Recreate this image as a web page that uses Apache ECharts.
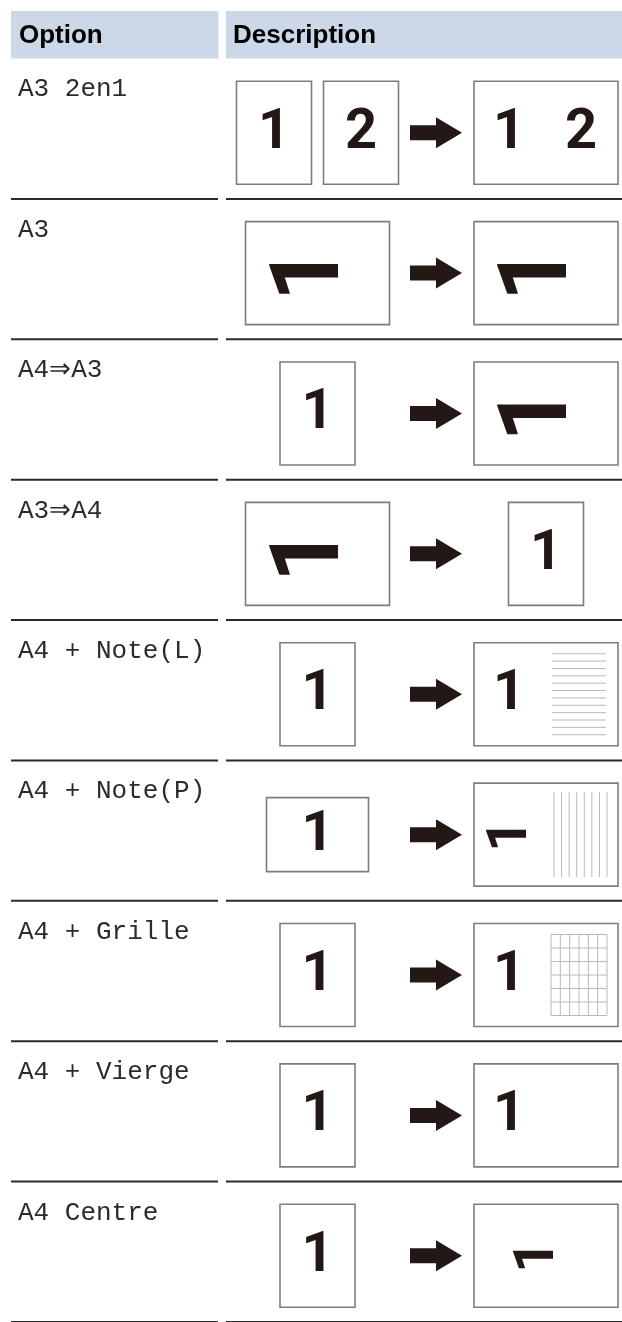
<!DOCTYPE html>
<html><head><meta charset="utf-8">
<script src="https://cdn.jsdelivr.net/npm/echarts@6/dist/echarts.min.js"></script>
<style>html,body{margin:0;padding:0;background:#fff}#c{width:622px;height:1322px}</style>
</head><body><div id="c"></div>
<script>
// ---- table content ----
const headers = ['Option', 'Description'];
const options = ['A3 2en1', 'A3', 'A4\u21D2A3', 'A3\u21D2A4', 'A4 + Note(L)', 'A4 + Note(P)', 'A4 + Grille', 'A4 + Vierge', 'A4 Centre'];
// input sheets per row (sheet kind) and the digit drawn on each
const inputSheets = [['A4', 'A4'], ['A3'], ['A4'], ['A3'], ['A4'], ['A4L'], ['A4'], ['A4'], ['A4']];
const inputDigits = [['1', '2'], ['1r'], ['1'], ['1r'], ['1'], ['1'], ['1'], ['1'], ['1']];
// output sheet per row, its digits and its extra pattern
const outputSheets = ['A3', 'A3', 'A3', 'A4', 'A3', 'A3', 'A3', 'A3', 'A3'];
const outputDigits = ['1 2', '1r', '1r', '1', '1', '1s', '1', '1', '1s'];
const outputPlacement = ['split', 'centre', 'centre', 'centre', 'left', 'left', 'left', 'left', 'centre'];
const outputPattern = ['', '', '', '', 'lines', 'columns', 'grid', '', ''];
const noteLineCount = 12;
const noteColumnCount = 8;
const gridCols = 6;
const gridRows = 6;

// ---- styles / layout ----
const INK = '#231815';
const BORDER = '#7d7d7d';
const PATTERN = '#b9b9b9';
const SHEET = { A4: [75, 103], A3: [144, 103], A4L: [102, 74] };
const SANS = 'Liberation Sans';
const DIGITS = 'Roboto';
const MONO = 'Liberation Mono';

function txt(x, y, text, size, align, valign, rot) {
  return { type: 'text', x: x, y: y, rotation: rot || 0,
    style: { text: text, fontFamily: DIGITS, fontSize: size, fontWeight: 'bold', fill: INK,
             align: align, verticalAlign: valign } };
}
function digit(kind, x, y) {
  if (kind === '1r') return txt(x - 4, y, '1', 96, 'center', 'middle', Math.PI / 2);
  if (kind === '1s') return txt(x, y, '1', 56, 'center', 'middle', Math.PI / 2);
  return txt(x, y, kind, 56, 'center', 'middle', 0);
}
function sheet(kind, cx, cy) {
  const s = SHEET[kind];
  return { type: 'rect', shape: { x: cx - s[0] / 2, y: cy - s[1] / 2, width: s[0], height: s[1] },
    style: { fill: '#fff', stroke: BORDER, lineWidth: 1.6 } };
}
function line(x1, y1, x2, y2, stroke, w) {
  return { type: 'line', shape: { x1: x1, y1: y1, x2: x2, y2: y2 }, style: { stroke: stroke, lineWidth: w } };
}

function renderItem(params, api) {
  const i = api.value(0);
  const c = api.coord([0, i]);
  const band = api.size([0, 1])[1];
  const top = c[1] - band / 2;
  const cy = c[1] + 4;
  const ch = [];
  // separators
  ch.push(line(11, top + band, 218, top + band, '#2a2a2a', 2));
  ch.push(line(226, top + band, 622, top + band, '#2a2a2a', 2));
  // option label
  ch.push({ type: 'text', x: 18, y: top + 44,
    style: { text: options[i], fontFamily: MONO, fontSize: 26, fill: '#2b2b2b',
             align: 'left', verticalAlign: 'bottom' } });
  // input sheets
  const ins = inputSheets[i];
  const inCx = 317.5;
  if (ins.length === 2) {
    const xs = [inCx - 43.5, inCx + 43.5];
    ins.forEach(function (k, j) {
      ch.push(sheet(k, xs[j], cy));
      ch.push(digit(inputDigits[i][j], xs[j], cy + 1));
    });
  } else {
    ch.push(sheet(ins[0], inCx, cy));
    ch.push(digit(inputDigits[i][0], inCx, cy + 1));
  }
  // arrow
  ch.push({ type: 'polygon', shape: { points: [[410, cy - 7.5], [436, cy - 7.5], [436, cy - 15.5], [462, cy],
    [436, cy + 15.5], [436, cy + 7.5], [410, cy + 7.5]] }, style: { fill: INK } });
  // output sheet
  const outCx = 546;
  const os = SHEET[outputSheets[i]];
  const ox = outCx - os[0] / 2, oy = cy - os[1] / 2;
  ch.push(sheet(outputSheets[i], outCx, cy));
  const pat = outputPattern[i];
  if (pat === 'lines') {
    const y0 = oy + 11, y1 = oy + 92;
    for (let k = 0; k < noteLineCount; k++) {
      const y = y0 + (y1 - y0) * k / (noteLineCount - 1);
      ch.push(line(ox + 78, y, ox + 132, y, PATTERN, 1));
    }
  } else if (pat === 'columns') {
    const x0 = ox + 80, x1 = ox + 133;
    for (let k = 0; k < noteColumnCount; k++) {
      const x = x0 + (x1 - x0) * k / (noteColumnCount - 1);
      ch.push(line(x, oy + 9, x, oy + 94, PATTERN, 1));
    }
  } else if (pat === 'grid') {
    const gx0 = ox + 77, gx1 = ox + 133, gy0 = oy + 11, gy1 = oy + 92;
    for (let k = 0; k <= gridCols; k++) {
      const x = gx0 + (gx1 - gx0) * k / gridCols;
      ch.push(line(x, gy0, x, gy1, PATTERN, 1));
    }
    for (let k = 0; k <= gridRows; k++) {
      const y = gy0 + (gy1 - gy0) * k / gridRows;
      ch.push(line(gx0, y, gx1, y, PATTERN, 1));
    }
  }
  const d = outputDigits[i];
  const place = outputPlacement[i];
  if (d === '1 2') {
    ch.push(digit('1', ox + 35, cy + 1));
    ch.push(digit('2', ox + 107, cy + 1));
  } else if (place === 'left') {
    ch.push(digit(d, d === '1s' ? ox + 38 : ox + 35, cy + 1));
  } else {
    ch.push(digit(d, d === '1s' ? outCx - 7 : outCx, cy + 1));
  }
  return { type: 'group', children: ch };
}

const chart = echarts.init(document.getElementById('c'), null, { renderer: 'canvas' });
chart.setOption({
  animation: false,
  backgroundColor: '#fff',
  grid: { left: 0, right: 0, top: 58.5, height: 141.2 * options.length },
  xAxis: { type: 'value', min: 0, max: 1, show: false },
  yAxis: { type: 'category', data: options, inverse: true, show: false },
  graphic: [
    { type: 'rect', shape: { x: 11, y: 11, width: 207.5, height: 47.5 }, style: { fill: '#ccd7e8' } },
    { type: 'rect', shape: { x: 226, y: 11, width: 396, height: 47.5 }, style: { fill: '#ccd7e8' } },
    { type: 'text', x: 19, y: 48.5, style: { text: headers[0], fontFamily: SANS, fontSize: 26, fontWeight: 'bold', fill: '#000', verticalAlign: 'bottom' } },
    { type: 'text', x: 233, y: 48.5, style: { text: headers[1], fontFamily: SANS, fontSize: 26, fontWeight: 'bold', fill: '#000', verticalAlign: 'bottom' } }
  ],
  series: [{
    type: 'custom',
    clip: false,
    data: options.map(function (_, i) { return [i]; }),
    encode: { y: 0 },
    renderItem: renderItem
  }]
});
</script>
</body></html>
